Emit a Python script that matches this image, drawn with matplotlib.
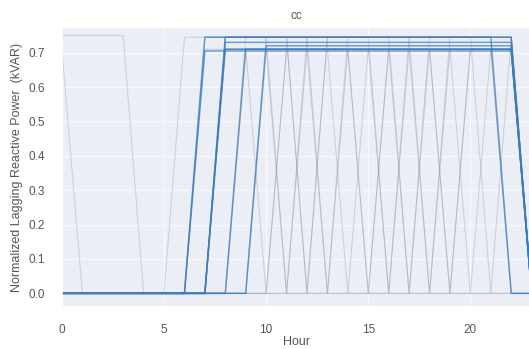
import numpy as np
import matplotlib
matplotlib.use("Agg")
import matplotlib.pyplot as plt
import seaborn as sns

sns.set_theme(style="darkgrid")
plt.rcParams['font.family'] = ['Liberation Sans', 'DejaVu Sans']

hours = list(range(24))

# each profile: first hour on, last hour on, level while on, hours switched off inside the window
blue_on = [7, 8, 8, 9, 10, 7, 8]
blue_off = [22, 22, 21, 22, 22, 22, 22]
blue_level = [0.745, 0.71, 0.745, 0.71, 0.72, 0.705, 0.73]

grey_on = [0, 0, 6, 8, 8, 9, 10, 7, 8, 9, 11, 8, 10, 8, 7]
grey_off = [0, 3, 22, 22, 22, 22, 22, 22, 21, 22, 22, 22, 21, 22, 22]
grey_level = [0.71, 0.75, 0.745, 0.71, 0.745, 0.71, 0.745, 0.71, 0.71, 0.745, 0.71, 0.745, 0.71, 0.71, 0.745]
grey_gaps = [[], [], [], [11], [13], [15], [12, 17], [18], [14, 19],
             [11, 16], [17, 20], [12], [15, 19], [10, 13, 16], [18, 21]]


def profile(on, off, level, gaps=()):
    vals = []
    for h in hours:
        if on <= h <= off and h not in gaps:
            vals.append(level)
        else:
            vals.append(0.0)
    return vals


text_col = '#555555'
fig = plt.figure(figsize=(5.29, 3.49), dpi=100)
ax = fig.add_axes([0.117, 0.12, 0.888, 0.803])
ax.set_facecolor('#eceef5')
ax.grid(color='#f7f8fb', lw=1.0)

for on, off, lev, gaps in zip(grey_on, grey_off, grey_level, grey_gaps):
    ax.plot(hours, profile(on, off, lev, gaps), color='#7d8ca3', lw=0.8, alpha=0.3)

for on, off, lev in zip(blue_on, blue_off, blue_level):
    ax.plot(hours, profile(on, off, lev), color='#3a7bbd', lw=1.1, alpha=0.7)

ax.set_xlim(0, 23)
ax.set_ylim(-0.04, 0.775)
ax.set_xticks([0, 5, 10, 15, 20])
ax.set_yticks([0.0, 0.1, 0.2, 0.3, 0.4, 0.5, 0.6, 0.7])
ax.tick_params(labelsize=8.5, pad=6, labelcolor=text_col)
ax.set_title('cc', fontsize=8.5, pad=6, color=text_col)
ax.set_xlabel('Hour', fontsize=9, labelpad=0, color=text_col)
ax.set_ylabel('Normalized Lagging Reactive Power  (kVAR)', fontsize=9, labelpad=4, color=text_col)

fig.savefig('out.png', dpi=100)
